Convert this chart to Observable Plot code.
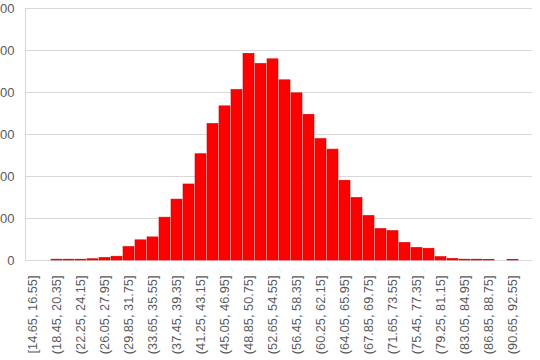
<!DOCTYPE html>
<html>
<head>
<meta charset="utf-8">
<script src="https://cdn.jsdelivr.net/npm/d3@7"></script>
<script src="https://cdn.jsdelivr.net/npm/@observablehq/plot@0.6"></script>
<style>
  html, body { margin: 0; padding: 0; background: #fff; width: 540px; height: 360px; overflow: hidden; }
  #chart { position: absolute; left: -20px; top: 0; }
  #chart svg { overflow: visible; }
</style>
</head>
<body>
<div id="chart"></div>
<script>
const binLabels = [
  "[14.65, 16.55]", "(16.55, 18.45]", "(18.45, 20.35]", "(20.35, 22.25]",
  "(22.25, 24.15]", "(24.15, 26.05]", "(26.05, 27.95]", "(27.95, 29.85]",
  "(29.85, 31.75]", "(31.75, 33.65]", "(33.65, 35.55]", "(35.55, 37.45]",
  "(37.45, 39.35]", "(39.35, 41.25]", "(41.25, 43.15]", "(43.15, 45.05]",
  "(45.05, 46.95]", "(46.95, 48.85]", "(48.85, 50.75]", "(50.75, 52.65]",
  "(52.65, 54.55]", "(54.55, 56.45]", "(56.45, 58.35]", "(58.35, 60.25]",
  "(60.25, 62.15]", "(62.15, 64.05]", "(64.05, 65.95]", "(65.95, 67.85]",
  "(67.85, 69.75]", "(69.75, 71.65]", "(71.65, 73.55]", "(73.55, 75.45]",
  "(75.45, 77.35]", "(77.35, 79.25]", "(79.25, 81.15]", "(81.15, 83.05]",
  "(83.05, 84.95]", "(84.95, 86.85]", "(86.85, 88.75]", "(88.75, 90.65]",
  "(90.65, 92.55]", "(92.55, 94.45]"
];
const counts = [
  0, 0, 2, 2, 2, 3, 6, 9, 32, 48, 55, 102, 145, 181, 253, 325, 367, 406,
  492, 468, 479, 429, 398, 347, 289, 264, 190, 149, 106, 75, 70, 42, 30, 28,
  8, 4, 2, 2, 1, 0, 1, 0
];
const shownTicks = binLabels.filter((d, i) => i % 2 === 0 && i <= 40);
const yTicks = [0, 100, 200, 300, 400, 500, 600];

const data = binLabels.map((label, i) => ({label, count: counts[i]}));

const chart = Plot.plot({
  width: 560,
  height: 360,
  marginLeft: 45,
  marginRight: 8,
  marginTop: 8,
  marginBottom: 100,
  style: {fontFamily: "'Liberation Sans', Arial, sans-serif", color: "#595959", background: "#fff"},
  x: {domain: binLabels, paddingInner: 0.12, paddingOuter: 0.06},
  y: {domain: [0, 600]},
  marks: [
    Plot.gridY(yTicks, {stroke: "#d9d9d9", strokeOpacity: 1, strokeWidth: 1}),
    Plot.frame({anchor: "left", stroke: "#d9d9d9"}),
    Plot.barY(data, {x: "label", y: "count", fill: "#ff0000", stroke: "#d80000", strokeWidth: 0.6}),
    Plot.axisY(yTicks, {tickSize: 0, tickPadding: 11, fontSize: 13, fill: "#595959", label: null}),
    Plot.axisX(shownTicks, {tickSize: 0, tickPadding: 15, tickRotate: -90, fontSize: 12.75, fill: "#595959", label: null})
  ]
});
document.getElementById("chart").appendChild(chart);
</script>
</body>
</html>
